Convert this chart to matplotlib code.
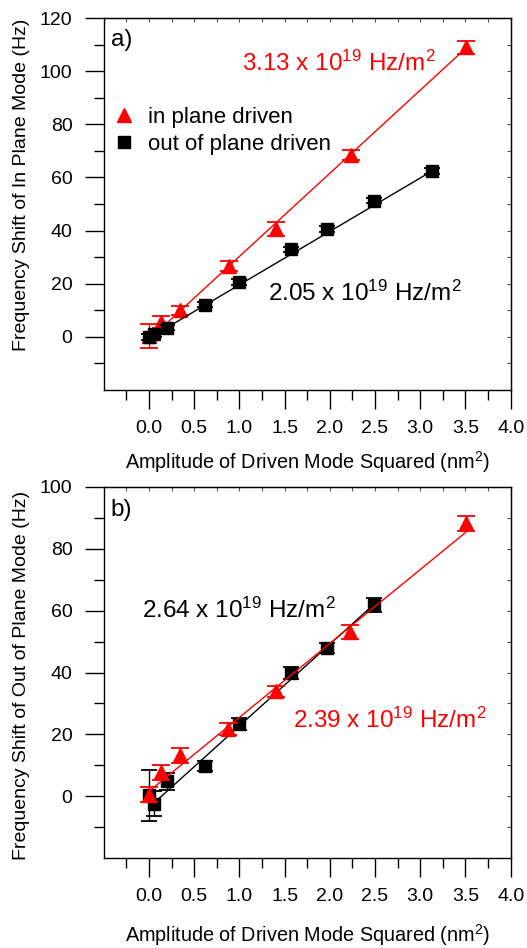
"""
Frequency shift of the in-plane / out-of-plane modes against the squared
amplitude of the driven mode, two stacked panels a) and b).
"""

import matplotlib
matplotlib.use("Agg")
import matplotlib.pyplot as plt
from matplotlib.lines import Line2D
from matplotlib.ticker import MultipleLocator

plt.rcParams["font.family"] = ["Liberation Sans", "DejaVu Sans"]
plt.rcParams["mathtext.fontset"] = "custom"
plt.rcParams["mathtext.rm"] = "Liberation Sans"
plt.rcParams["mathtext.it"] = "Liberation Sans:italic"

RED = "#ff0000"
BLACK = "#000000"

# ---- panel a): shift of the in-plane mode --------------------------------
a_in_x = [0.0, 0.13, 0.34, 0.88, 1.40, 2.23, 3.51]
a_in_y = [0.4, 5.6, 10.0, 26.6, 40.6, 68.4, 109.0]
a_in_err = [4.6, 2.2, 1.6, 1.9, 2.7, 1.9, 2.5]
a_in_fit_x = [0.0, 3.51]
a_in_fit_y = [-1.0, 108.8]

a_out_x = [0.0, 0.055, 0.20, 0.62, 0.99, 1.57, 1.97, 2.49, 3.13]
a_out_y = [0.0, 0.9, 3.4, 12.1, 20.6, 32.9, 40.6, 51.2, 62.4]
a_out_err = [1.0, 1.0, 1.0, 1.0, 1.1, 1.0, 1.0, 1.0, 1.0]
a_out_fit_x = [0.0, 3.13]
a_out_fit_y = [-0.5, 62.4]

# ---- panel b): shift of the out-of-plane mode ----------------------------
b_in_x = [0.0, 0.13, 0.34, 0.87, 1.40, 2.22, 3.51]
b_in_y = [0.5, 7.7, 13.2, 21.7, 33.9, 53.0, 88.2]
b_in_err = [2.4, 2.4, 2.4, 2.0, 1.8, 2.3, 2.3]
b_in_fit_x = [0.0, 3.51]
b_in_fit_y = [1.6, 85.5]

b_out_x = [0.0, 0.055, 0.20, 0.62, 0.99, 1.57, 1.97, 2.49]
b_out_y = [0.3, -2.4, 4.8, 9.9, 23.3, 39.8, 47.8, 61.8]
b_out_err = [8.3, 4.0, 2.8, 1.6, 2.0, 2.0, 1.6, 2.2]
b_out_fit_x = [0.055, 2.49]
b_out_fit_y = [-2.2, 62.1]

XLABEL = "Amplitude of Driven Mode Squared (nm$^{2}$)"


def style_axes(ax, ymin, ymax):
    ax.set_xlim(-0.5, 4.0)
    ax.set_ylim(ymin, ymax)
    ax.set_xticks([i * 0.5 for i in range(9)])
    ax.set_xticklabels([f"{i * 0.5:.1f}" for i in range(9)])
    ax.set_xticks([-0.25 + i * 0.5 for i in range(9)], minor=True)
    ax.set_yticks(list(range(0, int(ymax) + 1, 20)))
    ax.set_yticks(list(range(-10, int(ymax), 20)), minor=True)
    ax.tick_params(which="major", direction="out", length=13.5, width=1,
                   labelsize=14, pad=8)
    ax.tick_params(which="minor", direction="out", length=7, width=1)
    ax.tick_params(axis="y", which="major", pad=9)
    for s in ax.spines.values():
        s.set_linewidth(1)
    # faint inward ticks on the opposite spines
    top = ax.secondary_xaxis("top")
    top.set_xticks([-0.25 + i * 0.25 for i in range(18)])
    top.tick_params(direction="in", length=3, width=0.8, labeltop=False,
                    color="#555555")
    right = ax.secondary_yaxis("right")
    right.set_yticks(list(range(-10, int(ymax), 10)))
    right.tick_params(direction="in", length=3, width=0.8, labelright=False,
                      color="#555555")
    ax.set_xlabel(XLABEL, fontsize=14.3)
    ax.xaxis.label.set_va("center")


def draw_series(ax, x, y, err, fx, fy, color, marker, ms, cap, z):
    ax.plot(fx, fy, color=color, lw=1.0, zorder=z)
    ax.errorbar(x, y, yerr=err, fmt=marker, color=color, ms=ms,
                mec=color, mfc=color, ecolor=color, elinewidth=1.0,
                capsize=cap, capthick=1.3, zorder=z + 0.5)


fig = plt.figure(figsize=(5.27, 9.48), dpi=100)

# ---------------- panel a ----------------
ax1 = fig.add_axes([0.197, 0.5886, 0.772, 0.3924])
style_axes(ax1, -20, 120)
draw_series(ax1, a_in_x, a_in_y, a_in_err, a_in_fit_x, a_in_fit_y,
            RED, "^", 10.5, 6.5, 2)
draw_series(ax1, a_out_x, a_out_y, a_out_err, a_out_fit_x, a_out_fit_y,
            BLACK, "s", 8, 5.8, 3)
ax1.set_ylabel("Frequency Shift of In Plane Mode (Hz)", fontsize=14)
ax1.yaxis.set_label_coords(-0.2015, 0.551)
ax1.yaxis.label.set_va("center")
ax1.xaxis.set_label_coords(0.5, -0.194)
ax1.text(0.017, 0.94, "a)", transform=ax1.transAxes, fontsize=17.5,
         ha="left", va="center")
ax1.text(0.339, 0.857, r"3.13 x 10$^{19}$ Hz/m$^{2}$", color=RED,
         transform=ax1.transAxes, fontsize=17.5, ha="left", va="baseline")
ax1.text(0.403, 0.239, r"2.05 x 10$^{19}$ Hz/m$^{2}$", color=BLACK,
         transform=ax1.transAxes, fontsize=17.5, ha="left", va="baseline")
handles = [
    Line2D([], [], ls="none", marker="^", ms=10.5, color=RED),
    Line2D([], [], ls="none", marker="s", ms=8, color=BLACK),
]
ax1.legend(handles, ["in plane driven", "out of plane driven"],
           loc="upper left", bbox_to_anchor=(0.0, 0.786), frameon=False,
           fontsize=16, handlelength=1.0, handletextpad=0.6,
           labelspacing=0.29, borderpad=0.2, borderaxespad=0.2)

# ---------------- panel b ----------------
ax2 = fig.add_axes([0.197, 0.0949, 0.772, 0.3914])
style_axes(ax2, -20, 100)
draw_series(ax2, b_out_x, b_out_y, b_out_err, b_out_fit_x, b_out_fit_y,
            BLACK, "s", 8, 5.8, 2)
draw_series(ax2, b_in_x, b_in_y, b_in_err, b_in_fit_x, b_in_fit_y,
            RED, "^", 10.5, 6.5, 3)
ax2.set_ylabel("Frequency Shift of Out of Plane Mode (Hz)", fontsize=14)
ax2.yaxis.set_label_coords(-0.2015, 0.493)
ax2.yaxis.label.set_va("center")
ax2.xaxis.set_label_coords(0.5, -0.2075)
ax2.text(0.017, 0.938, "b)", transform=ax2.transAxes, fontsize=17.5,
         ha="left", va="center")
ax2.text(0.093, 0.647, r"2.64 x 10$^{19}$ Hz/m$^{2}$", color=BLACK,
         transform=ax2.transAxes, fontsize=17.5, ha="left", va="baseline")
ax2.text(0.464, 0.350, r"2.39 x 10$^{19}$ Hz/m$^{2}$", color=RED,
         transform=ax2.transAxes, fontsize=17.5, ha="left", va="baseline")

fig.savefig("out.png", dpi=100)
